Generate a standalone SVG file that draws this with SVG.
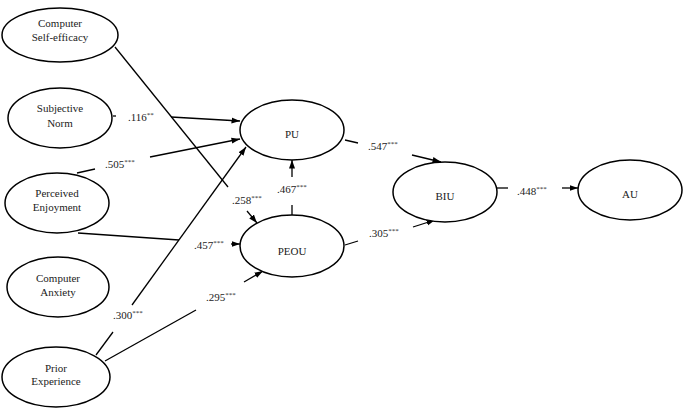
<svg xmlns="http://www.w3.org/2000/svg" width="685" height="409" viewBox="0 0 685 409" font-family="Liberation Serif, Times New Roman, serif" font-size="11">
<style>
text{fill:#222}
.node ellipse{fill:#fff;stroke:#000;stroke-width:1.5}
.node text{text-anchor:middle}
.sup{font-size:7px}
#connectors line{stroke:#000;stroke-width:1.3;fill:none}
#connectors line.arr{marker-end:url(#ah)}
</style>
<defs>
<marker id="ah" markerUnits="userSpaceOnUse" markerWidth="9" markerHeight="8" refX="8.5" refY="4" orient="auto">
<path d="M0,1 L8.5,4 L0,7 Z" fill="#000"/>
</marker>
</defs>
<rect width="685" height="409" fill="#fff"/>
<g id="connectors">
<line x1="115" y1="47" x2="228" y2="187"/>
<line class="arr" x1="247" y1="211" x2="257" y2="223"/>
<line x1="113" y1="116" x2="116" y2="116"/>
<line class="arr" x1="171" y1="117" x2="240" y2="121"/>
<line x1="77" y1="173" x2="95" y2="169"/>
<line class="arr" x1="150" y1="157" x2="240" y2="139"/>
<line x1="78" y1="233" x2="179" y2="240"/>
<line class="arr" x1="231" y1="244" x2="240" y2="244"/>
<line x1="96" y1="355" x2="113" y2="332"/>
<line class="arr" x1="132" y1="305" x2="246" y2="147"/>
<line x1="105" y1="361" x2="196" y2="310"/>
<line class="arr" x1="244" y1="282" x2="263" y2="271"/>
<line x1="292" y1="215" x2="292" y2="205"/>
<line class="arr" x1="292" y1="177" x2="292" y2="160"/>
<line x1="345" y1="140" x2="358" y2="143"/>
<line class="arr" x1="412" y1="155" x2="441" y2="162"/>
<line x1="345" y1="245" x2="358" y2="241"/>
<line class="arr" x1="413" y1="227" x2="435" y2="220"/>
<line x1="497" y1="188" x2="508" y2="188"/>
<line class="arr" x1="562" y1="188" x2="578" y2="188"/>
</g>
<g id="labels">
<text x="128" y="121">.116<tspan class="sup" dy="-4">**</tspan></text>
<text x="105" y="168">.505<tspan class="sup" dy="-4">***</tspan></text>
<text x="232" y="204">.258<tspan class="sup" dy="-4">***</tspan></text>
<text x="194" y="249">.457<tspan class="sup" dy="-4">***</tspan></text>
<text x="113" y="319">.300<tspan class="sup" dy="-4">***</tspan></text>
<text x="206" y="301">.295<tspan class="sup" dy="-4">***</tspan></text>
<text x="277" y="193">.467<tspan class="sup" dy="-4">***</tspan></text>
<text x="368" y="150">.547<tspan class="sup" dy="-4">***</tspan></text>
<text x="369" y="237">.305<tspan class="sup" dy="-4">***</tspan></text>
<text x="517" y="195">.448<tspan class="sup" dy="-4">***</tspan></text>
</g>
<g id="cse" class="node"><ellipse cx="60" cy="35" rx="58" ry="27"/><text x="60" y="27">Computer</text><text x="60" y="41">Self-efficacy</text></g>
<g id="sn" class="node"><ellipse cx="60" cy="118" rx="52" ry="30"/><text x="60" y="112">Subjective</text><text x="60" y="127">Norm</text></g>
<g id="pe" class="node"><ellipse cx="57" cy="203" rx="52" ry="30"/><text x="57" y="197">Perceived</text><text x="57" y="211">Enjoyment</text></g>
<g id="ca" class="node"><ellipse cx="58" cy="287" rx="51" ry="30"/><text x="58" y="282">Computer</text><text x="58" y="296">Anxiety</text></g>
<g id="pre" class="node"><ellipse cx="56" cy="377" rx="54" ry="30"/><text x="56" y="372">Prior</text><text x="56" y="385">Experience</text></g>
<g id="pu" class="node"><ellipse cx="292" cy="130" rx="52" ry="30"/><text x="292" y="138">PU</text></g>
<g id="peou" class="node"><ellipse cx="292" cy="246" rx="52" ry="31"/><text x="292" y="255">PEOU</text></g>
<g id="biu" class="node"><ellipse cx="445" cy="192" rx="52" ry="30"/><text x="445" y="200">BIU</text></g>
<g id="au" class="node"><ellipse cx="630" cy="190" rx="52" ry="30"/><text x="630" y="198">AU</text></g>
</svg>
